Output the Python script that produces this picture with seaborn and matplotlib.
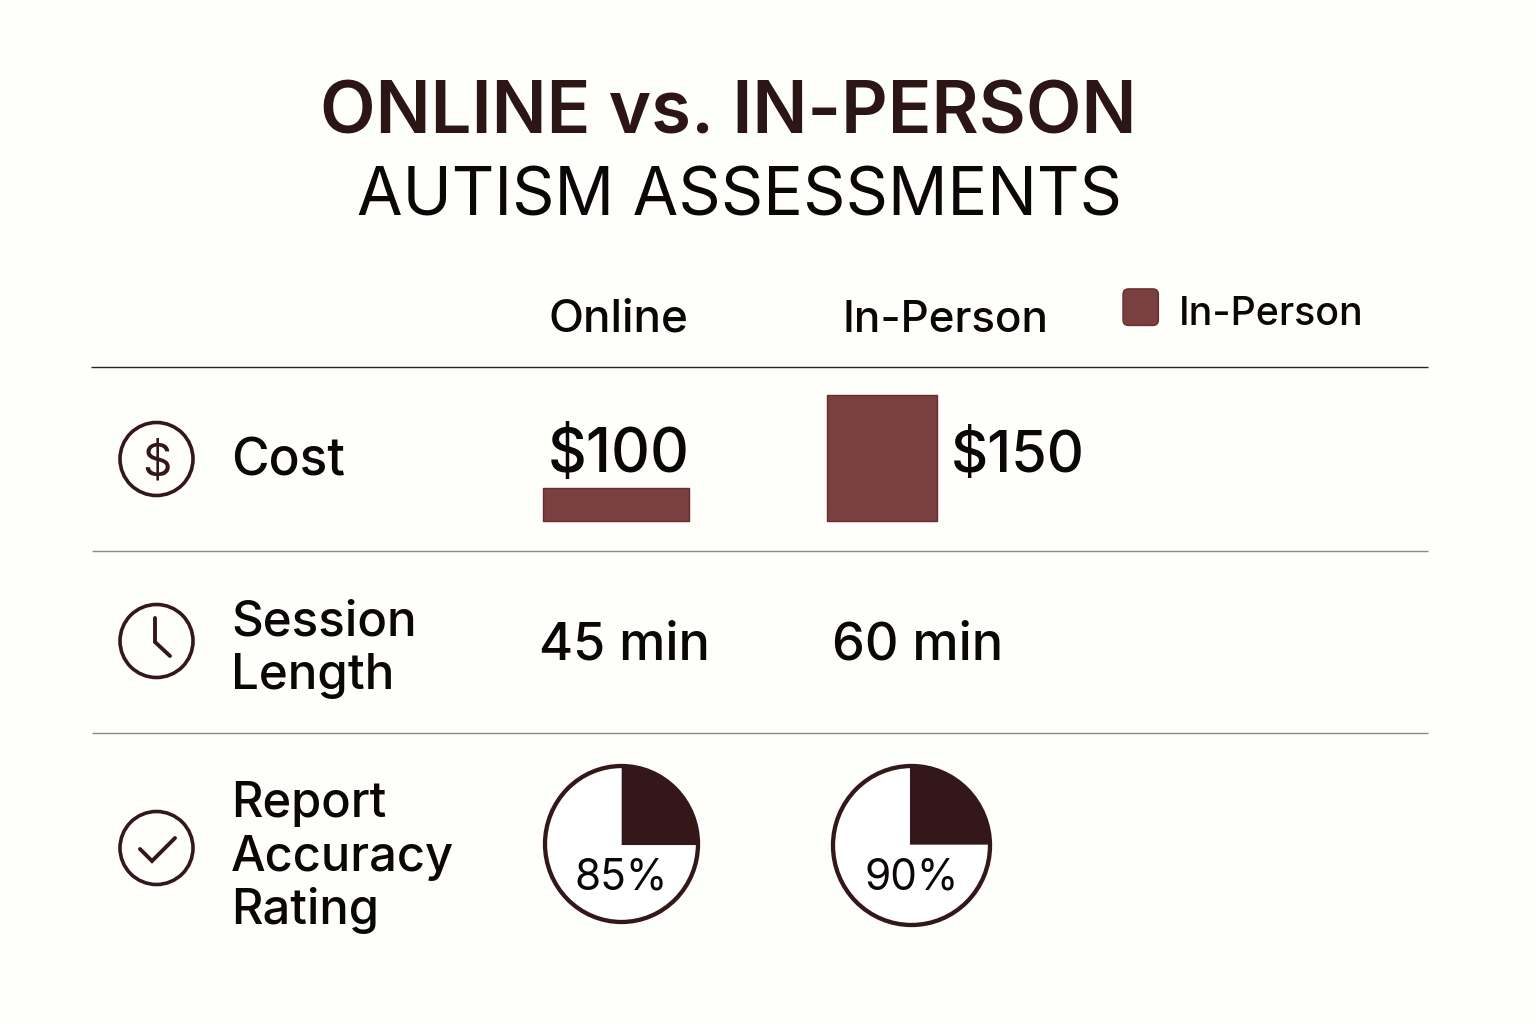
import matplotlib
matplotlib.use("Agg")
import matplotlib.pyplot as plt
import seaborn as sns
import pandas as pd
from matplotlib.patches import Circle, FancyBboxPatch, Patch
from matplotlib.legend_handler import HandlerPatch

# ---- data ----
title_top = "ONLINE vs. IN-PERSON"
title_sub = "AUTISM ASSESSMENTS"
modes = ["Online", "In-Person"]
cost_values = [100, 150]
cost_labels = ["$100", "$150"]
session_labels = ["45 min", "60 min"]
accuracy_labels = ["85%", "90%"]
accuracy_wedge_shares = [[25, 75], [25, 75]]   # filled share as drawn in the picture
row_labels = ["Cost", "Session\nLength", "Report\nAccuracy\nRating"]
legend_label = "In-Person"

# ---- style ----
BG = "#FEFEFB"
INK = "#0B0708"
DARK = "#341819"
BAR = "#7A3F3F"
BAR_EDGE = "#6A2C2E"
W, H = 1536, 1024

sns.set_theme(style="white")
plt.rcParams["font.family"] = ["Inter", "DejaVu Sans"]

fig = plt.figure(figsize=(W / 100, H / 100), dpi=100, facecolor=BG)


def px_axes(x0, y0, x1, y1):
    a = fig.add_axes([x0 / W, 1 - y1 / H, (x1 - x0) / W, (y1 - y0) / H])
    a.set_facecolor("none")
    return a


# ---- cost bars: each in its own axes, as the picture scales them separately ----
bar_boxes = [(543, 488, 689, 521), (826.5, 395, 937, 521)]
for mode, val, box in zip(modes, cost_values, bar_boxes):
    a = px_axes(*box)
    df = pd.DataFrame({"mode": [mode], "cost": [val]})
    sns.barplot(data=df, x="mode", y="cost", color=BAR, saturation=1, width=1,
                edgecolor=BAR_EDGE, linewidth=1, ax=a)
    a.set_xlim(-0.5, 0.5)
    a.set_ylim(0, val)
    a.axis("off")
    for p in a.patches:
        p.set_clip_on(False)

# ---- accuracy pies ----
pie_boxes = [(545, 766, 698, 922), (833, 766, 990, 925)]
pie_centers = [(-0.01, -0.025), (-0.03, 0.0)]
for shares, box, c in zip(accuracy_wedge_shares, pie_boxes, pie_centers):
    a = px_axes(*box)
    a.add_patch(Circle((0, 0), 1, fc="#FFFFFF", ec="none"))
    a.pie(shares, startangle=90, counterclock=False, colors=[DARK, "#FFFFFF00"],
          radius=1.025, center=c)
    a.set_xlim(-1, 1)
    a.set_ylim(-1, 1)
    a.set_aspect("auto")
    a.add_patch(Circle((0, 0), 1, fill=False, ec=DARK, lw=3.1, clip_on=False, zorder=5))
    a.axis("off")

# ---- overlay in pixel coordinates ----
ax = fig.add_axes([0, 0, 1, 1])
ax.set_xlim(0, W)
ax.set_ylim(H, 0)
ax.axis("off")


def T(x, y, s, size, ha="left", weight="medium", color=INK):
    return ax.text(x, y, s, fontsize=size, ha=ha, va="baseline", fontweight=weight, color=color)


T(728, 133, title_top, 52.2, ha="center", weight="semibold", color="#2B1515")
T(739.5, 215, title_sub, 47.6, ha="center", weight="normal")

T(618, 331.5, modes[0], 33, ha="center")
T(945.5, 331.5, modes[1], 31.6, ha="center")

# rules
for y, x0, color, lw in [(366.5, 91, "#2A2224", 1.0), (550.5, 92, "#8C8A86", 1.0), (733, 92, "#8C8A86", 1.0)]:
    ax.plot([x0, 1428], [y, y], color=color, lw=lw, solid_capstyle="butt")

# row labels
row_sizes = [37, 35.5, 35.2]
for lines, baselines, sz in zip(row_labels, [[475], [635, 689], [817, 871, 924]], row_sizes):
    for line, b in zip(lines.split("\n"), baselines):
        T(231, b, line, sz)

# values
T(618.5, 472, cost_labels[0], 43.5, ha="center")
T(1017.5, 472, cost_labels[1], 41.5, ha="center")
T(624.5, 660, session_labels[0], 37.5, ha="center")
T(918, 660, session_labels[1], 37.5, ha="center")
T(621, 889.5, accuracy_labels[0], 30.5, ha="center", weight="normal")
T(912, 889.5, accuracy_labels[1], 30.5, ha="center", weight="normal")

# icons
for cy in (459, 641, 848):
    ax.add_patch(Circle((156.5, cy), 36.5, fill=False, ec=DARK, lw=2.6))
ax.text(156.5, 475, "$", fontsize=33, ha="center", va="baseline", color=DARK, fontweight="normal")
ax.plot([155, 155, 170], [618, 642, 656], color=DARK, lw=2.8, solid_joinstyle="miter")
ax.plot([140, 152, 175], [849, 861, 838], color=DARK, lw=2.8, solid_joinstyle="miter")


# legend with a rounded swatch
class RoundHandler(HandlerPatch):
    def create_artists(self, legend, orig, xd, yd, width, height, fontsize, trans):
        p = FancyBboxPatch((-xd + 3, -yd + 5.3), width - 6, height - 5,
                           boxstyle="round,pad=3,rounding_size=4",
                           fc=orig.get_facecolor(), ec=orig.get_edgecolor(), lw=1, transform=trans)
        return [p]


leg = ax.legend(handles=[Patch(facecolor=BAR, edgecolor=BAR_EDGE, label=legend_label)],
                handler_map={Patch: RoundHandler()},
                loc="center left", bbox_to_anchor=(1123, 313), bbox_transform=ax.transData,
                frameon=False, fontsize=28.3, borderpad=0, borderaxespad=0,
                handlelength=0.9, handleheight=1.0, handletextpad=0.52, labelcolor=INK)
for t in leg.get_texts():
    t.set_fontweight("medium")

fig.savefig("out.png", dpi=100, facecolor=BG)
